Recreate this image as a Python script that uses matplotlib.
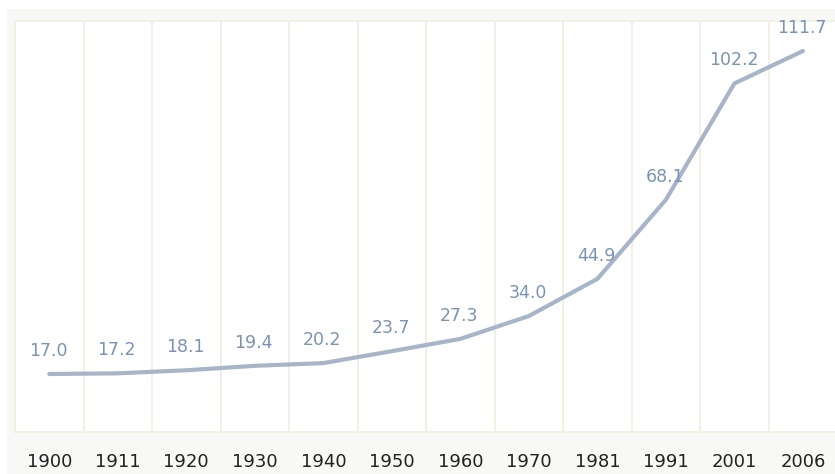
import matplotlib
matplotlib.use("Agg")
import matplotlib.pyplot as plt
from matplotlib.patches import Rectangle

years = ["1900", "1911", "1920", "1930", "1940", "1950", "1960", "1970", "1981", "1991", "2001", "2006"]
values = [17.0, 17.2, 18.1, 19.4, 20.2, 23.7, 27.3, 34.0, 44.9, 68.1, 102.2, 111.7]

W, H = 835, 474
fig = plt.figure(figsize=(W / 100, H / 100), dpi=100)
fig.patch.set_facecolor("white")

# light grey frame behind the plot area
fig.patches.append(Rectangle((7 / W, 0), 1, 1 - 9 / H, transform=fig.transFigure,
                             facecolor="#f8f8f6", edgecolor="none", zorder=-5))

left, right, top, bottom = 15, 835, 21, 432
ax = fig.add_axes([left / W, 1 - bottom / H, (right - left) / W, (bottom - top) / H])
ax.set_facecolor("white")

x = list(range(len(years)))
ax.plot(x, values, color="#a8b5c8", linewidth=3, solid_capstyle="round", zorder=3)

for xi, v in zip(x, values):
    ax.annotate(f"{v:.1f}", (xi, v), xytext=(-1, 23), textcoords="offset pixels",
                ha="center", va="center", fontsize=12.5, color="#7b93b3", zorder=4)

step = 68.45
ax.set_xlim(-0.5, (right - 50) / step)
ax.set_ylim(0, 120.5)

grid_c = "#efefe2"
for g in range(len(years) - 1):
    ax.axvline(g + 0.5, color=grid_c, linewidth=1.3, zorder=1)
for side in ["left", "top", "bottom"]:
    ax.spines[side].set_color(grid_c)
    ax.spines[side].set_linewidth(1.3)
ax.spines["right"].set_visible(False)

ax.set_xticks(x)
ax.set_xticklabels(years, fontsize=13, color="#222222")
ax.tick_params(axis="x", length=0, pad=15)
ax.set_yticks([])

fig.savefig("out.png", dpi=100)
